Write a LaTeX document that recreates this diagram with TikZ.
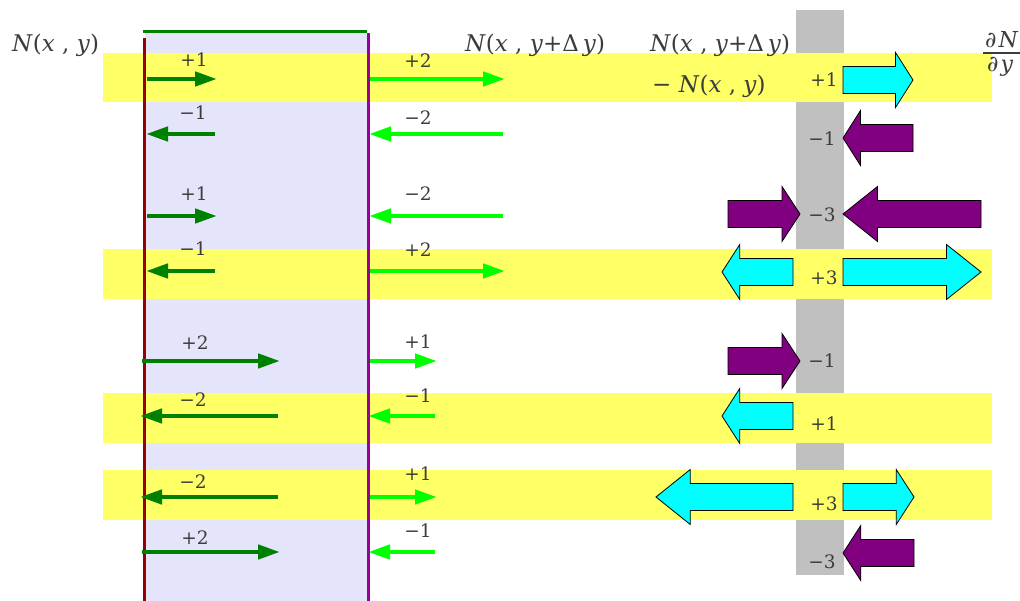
\documentclass[tikz,border=0pt]{standalone}
\usepackage{fontspec}
\setmainfont{DejaVu Serif}
\usetikzlibrary{arrows.meta}
\definecolor{lav}{HTML}{E4E4FA}
\definecolor{yel}{HTML}{FFFF66}
\definecolor{gcol}{HTML}{C0C0C0}
\definecolor{dgreen}{HTML}{008000}
\definecolor{lgreen}{HTML}{00FF00}
\definecolor{txt}{HTML}{3C3C3C}
\definecolor{dred}{HTML}{990000}
\definecolor{purp}{HTML}{800080}
\definecolor{purl}{HTML}{990099}
\definecolor{cyanb}{HTML}{00FFFF}
\newcommand\blockarr[4]{%
  \pgfmathsetmacro\hb{#2-(#2-#1)/4}%
  \draw[#4] (#1,#3-13.5) -- (\hb,#3-13.5) -- (\hb,#3-27.5) -- (#2,#3) -- (\hb,#3+27.5) -- (\hb,#3+13.5) -- (#1,#3+13.5) -- cycle;}
\begin{document}
\begin{tikzpicture}[x=1pt,y=-1pt,
  dgarrow/.style={draw=dgreen,line width=4.5pt,-{Triangle[length=22pt,width=14pt]}},
  lgarrow/.style={draw=lgreen,line width=4.5pt,-{Triangle[length=22pt,width=14pt]}},
  lbl/.style={text=txt,font=\fontsize{18.5}{20}\selectfont,inner sep=0pt},
  bigtxt/.style={text=txt,font=\fontsize{23}{26}\selectfont,inner sep=0pt,anchor=west},
  fractxt/.style={text=txt,font=\fontsize{22}{24}\selectfont,inner sep=0pt,anchor=west},
  cyanarr/.style={fill=cyanb,draw=black,line width=0.8pt,line join=miter},
  purparr/.style={fill=purp,draw=black,line width=0.8pt,line join=miter},
  band/.style={fill=yel}]
\useasboundingbox (0,0) rectangle (1020,601);
% backgrounds
\fill[lav] (145,33) rectangle (368,601);
\fill[gcol] (796,10) rectangle (844,575);
\fill[band] (103,53) rectangle (992,102);
\fill[band] (103,249) rectangle (992,299);
\fill[band] (103,393) rectangle (992,443);
\fill[band] (103,470) rectangle (992,520);
% frame lines
\draw[dgreen,line width=3pt] (143,32) -- (367,32);
\draw[dred,line width=3pt] (144,38) -- (144,601);
\draw[purl,line width=3pt] (368,33) -- (368,601);
% header texts
\node[bigtxt] (n1) at (12,45) {\textit{N}(\textit{x} , \textit{y})};
\node[bigtxt] (n2) at (465,45) {\textit{N}(\textit{x} , \textit{y}+Δ\,\textit{y})};
\node[bigtxt] (n3) at (650,45) {\textit{N}(\textit{x} , \textit{y}+Δ\,\textit{y})};
\node[bigtxt] (n4) at (652,86) {− \textit{N}(\textit{x} , \textit{y})};
\node[fractxt] (d1) at (985,40) {∂\kern2pt\textit{N}};
\node[fractxt] (d2) at (987,67) {∂\kern2pt\textit{y}};
\draw[txt,line width=1.2pt] (983,53) -- (1020,53);
% dark green arrows
\draw[dgarrow] (147,79) -- (217,79);
\draw[dgarrow] (215,134) -- (146,134);
\draw[dgarrow] (147,216) -- (217,216);
\draw[dgarrow] (215,271) -- (146,271);
\draw[dgarrow] (142,361) -- (280,361);
\draw[dgarrow] (278,416) -- (140,416);
\draw[dgarrow] (278,497) -- (140,497);
\draw[dgarrow] (142,552) -- (280,552);
\node[lbl] (a1) at (194,60) {+1};
\node[lbl] (a2) at (193,113) {−1};
\node[lbl] (a3) at (194,194) {+1};
\node[lbl] (a4) at (193,249) {−1};
\node[lbl] (a5) at (195,343) {+2};
\node[lbl] (a6) at (193,400) {−2};
\node[lbl] (a7) at (193,482) {−2};
\node[lbl] (a8) at (195,538) {+2};
% light green arrows
\draw[lgarrow] (370,79) -- (505,79);
\draw[lgarrow] (503,134) -- (369,134);
\draw[lgarrow] (503,216) -- (369,216);
\draw[lgarrow] (370,271) -- (505,271);
\draw[lgarrow] (370,361) -- (437,361);
\draw[lgarrow] (435,416) -- (368,416);
\draw[lgarrow] (370,497) -- (437,497);
\draw[lgarrow] (435,552) -- (368,552);
\node[lbl] (b1) at (418,61) {+2};
\node[lbl] (b2) at (418,118) {−2};
\node[lbl] (b3) at (418,194) {−2};
\node[lbl] (b4) at (418,250) {+2};
\node[lbl] (b5) at (418,342) {+1};
\node[lbl] (b6) at (418,396) {−1};
\node[lbl] (b7) at (418,474) {+1};
\node[lbl] (b8) at (418,531) {−1};
% column numbers
\node[lbl] (g1) at (824,80) {+1};
\node[lbl] (g2) at (822,139) {−1};
\node[lbl] (g3) at (822,215) {−3};
\node[lbl] (g4) at (824,278) {+3};
\node[lbl] (g5) at (822,361) {−1};
\node[lbl] (g6) at (824,424) {+1};
\node[lbl] (g7) at (824,504) {+3};
\node[lbl] (g8) at (822,562) {−3};
% block arrows
\blockarr{843}{913}{80}{cyanarr}
\blockarr{913}{843}{138}{purparr}
\blockarr{728}{800}{214}{purparr}
\blockarr{981}{843}{214}{purparr}
\blockarr{793}{722}{272}{cyanarr}
\blockarr{843}{981}{272}{cyanarr}
\blockarr{728}{800}{361}{purparr}
\blockarr{793}{722}{416}{cyanarr}
\blockarr{793}{656}{497}{cyanarr}
\blockarr{843}{914}{497}{cyanarr}
\blockarr{914}{843}{553}{purparr}
\end{tikzpicture}
\end{document}
